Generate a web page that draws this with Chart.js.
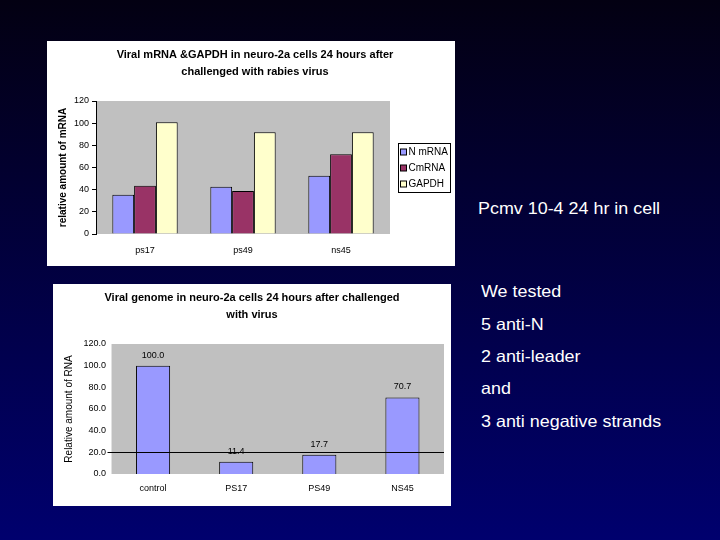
<!DOCTYPE html>
<html>
<head>
<meta charset="utf-8">
<script src="https://cdn.jsdelivr.net/npm/chart.js@4.4.0/dist/chart.umd.min.js"></script>
<style>
  html, body { margin: 0; padding: 0; }
  body {
    width: 720px; height: 540px; overflow: hidden; position: relative;
    background: linear-gradient(#030012, #00006e);
    font-family: "Liberation Sans", Arial, sans-serif;
  }
  .box { position: absolute; background: #fff; }
  .txt { position: absolute; color: #fff; font-size: 16.5px; line-height: 18px; white-space: nowrap;
         transform: scaleX(1.085); transform-origin: left center; }
</style>
</head>
<body>
<div class="box" style="left:47px; top:41px; width:408px; height:225px;">
  <canvas id="grafico1" width="408" height="225"></canvas>
</div>
<div class="box" style="left:53px; top:284px; width:398px; height:222px;">
  <canvas id="grafico2" width="398" height="222"></canvas>
</div>
<div class="txt" style="left:478px; top:199px;">Pcmv 10-4 24 hr in cell</div>
<div class="txt" style="left:481px; top:282px;">We tested</div>
<div class="txt" style="left:481px; top:315px;">5 anti-N</div>
<div class="txt" style="left:481px; top:347px;">2 anti-leader</div>
<div class="txt" style="left:481px; top:379px;">and</div>
<div class="txt" style="left:481px; top:412px;">3 anti negative strands</div>
<script>
// grafico 1: mRNA virale e GAPDH
var categorie1 = ["ps17", "ps49", "ns45"];
var nmRNA = [35.5, 42.6, 52.5];
var cmRNA = [43.5, 38.7, 72];
var gapdh = [100.8, 91.8, 91.8];
var assey1 = [0, 120, 20]; // min, max, passo

// grafico 2: genoma virale
var categorie2 = ["control", "PS17", "PS49", "NS45"];
var genoma = [100.0, 11.4, 17.7, 70.7];
var assey2 = [0, 120, 20];
var lineaRif = 20;

var font = "'Liberation Sans', Arial, sans-serif";
Chart.defaults.font.family = font;
Chart.defaults.color = "#000";
Chart.defaults.animation = false;

// sfondo grigio dell'area del grafico
var sfondoGrigio = {
    id: "sfondoGrigio",
    beforeDraw: function (chart) {
        var a = chart.chartArea, ctx = chart.ctx;
        ctx.save();
        ctx.fillStyle = "#c0c0c0";
        ctx.fillRect(a.left, a.top, a.right - a.left, a.bottom - a.top);
        ctx.restore();
    }
};

// legenda con bordo, disegnata a mano a destra dell'area
var legendaBox = {
    id: "legendaBox",
    afterDraw: function (chart) {
        var ctx = chart.ctx, a = chart.chartArea;
        var ds = chart.data.datasets;
        var w = 52, riga = 16, h = ds.length * riga + 1;
        var x = Math.round(a.right + 8) + 0.5;
        var y = Math.round((a.top + a.bottom) / 2 - h / 2) + 0.5;
        ctx.save();
        ctx.strokeStyle = "#000";
        ctx.lineWidth = 1;
        ctx.strokeRect(x, y, w, h);
        ctx.font = "10px " + font;
        ctx.textBaseline = "middle";
        ds.forEach(function (d, i) {
            var cy = Math.round(y + 8 + i * riga);
            ctx.fillStyle = d.backgroundColor;
            ctx.fillRect(x + 2, cy - 3, 6, 6);
            ctx.strokeRect(x + 2, cy - 3, 6, 6);
            ctx.fillStyle = "#000";
            ctx.fillText(d.label, x + 10, cy + 0.5);
        });
        ctx.restore();
    }
};

// linea orizzontale + etichette sopra le barre
var lineaEtichette = {
    id: "lineaEtichette",
    afterDatasetsDraw: function (chart) {
        var ctx = chart.ctx, a = chart.chartArea;
        var y = Math.round(chart.scales.y.getPixelForValue(lineaRif)) + 0.5;
        ctx.save();
        ctx.strokeStyle = "#000";
        ctx.lineWidth = 1.2;
        ctx.beginPath();
        ctx.moveTo(a.left - 4, y);
        ctx.lineTo(a.right, y);
        ctx.stroke();
        ctx.fillStyle = "#000";
        ctx.font = "9px " + font;
        ctx.textAlign = "center";
        ctx.textBaseline = "bottom";
        var meta = chart.getDatasetMeta(0);
        meta.data.forEach(function (bar, i) {
            ctx.fillText(genoma[i].toFixed(1), bar.x, bar.y - 6);
        });
        ctx.restore();
    }
};

var ctx1 = document.getElementById("grafico1");
var grafico1 = new Chart(ctx1, {
    type: "bar",
    data: {
        labels: categorie1,
        datasets: [
            { label: "N mRNA", data: nmRNA, backgroundColor: "#9999ff", borderColor: "#000", borderWidth: 1 },
            { label: "CmRNA", data: cmRNA, backgroundColor: "#993366", borderColor: "#000", borderWidth: 1 },
            { label: "GAPDH", data: gapdh, backgroundColor: "#ffffcc", borderColor: "#000", borderWidth: 1 }
        ]
    },
    options: {
        responsive: false,
        layout: { padding: { left: 8, right: 0, top: 6, bottom: 0 } },
        categoryPercentage: 0.667,
        barPercentage: 1,
        plugins: {
            title: {
                display: true,
                text: ["Viral mRNA &GAPDH in neuro-2a cells 24 hours after", "challenged with rabies virus"],
                font: { size: 11, weight: "bold", lineHeight: 1.5 },
                padding: { top: 0, bottom: 21 }
            },
            legend: { display: false },
            tooltip: { enabled: false }
        },
        scales: {
            x: {
                grid: { display: false, drawTicks: false },
                border: { display: false },
                ticks: { font: { size: 9 }, padding: 11 },
                afterFit: function (s) { s.height = 32; }
            },
            y: {
                min: assey1[0], max: assey1[1],
                ticks: { stepSize: assey1[2], font: { size: 9 }, padding: 3 },
                grid: { drawOnChartArea: false, drawTicks: true, tickLength: 4, color: "#000" },
                border: { display: true, color: "#000" },
                title: { display: true, text: "relative amount of mRNA", font: { size: 10, weight: "bold" }, padding: 2 }
            },
            // spazio vuoto a destra per la legenda
            spazio: {
                position: "right",
                ticks: { display: false },
                grid: { display: false, drawTicks: false },
                border: { display: false },
                afterFit: function (s) { s.width = 65; }
            }
        }
    },
    plugins: [sfondoGrigio, legendaBox]
});

var ctx2 = document.getElementById("grafico2");
var grafico2 = new Chart(ctx2, {
    type: "bar",
    data: {
        labels: categorie2,
        datasets: [
            { label: "genome", data: genoma, backgroundColor: "#9999ff", borderColor: "#000", borderWidth: 1 }
        ]
    },
    options: {
        responsive: false,
        layout: { padding: { left: 7, right: 7, top: 6, bottom: 0 } },
        categoryPercentage: 1,
        barPercentage: 0.41,
        plugins: {
            title: {
                display: true,
                text: ["Viral genome in neuro-2a cells 24 hours after challenged", "with virus"],
                font: { size: 11, weight: "bold", lineHeight: 1.5 },
                padding: { top: 0, bottom: 21 }
            },
            legend: { display: false },
            tooltip: { enabled: false }
        },
        scales: {
            x: {
                grid: { display: false, drawTicks: false },
                border: { display: false },
                ticks: { font: { size: 9 }, padding: 9 },
                afterFit: function (s) { s.height = 32; }
            },
            y: {
                min: assey2[0], max: assey2[1],
                ticks: { stepSize: assey2[2], font: { size: 9 }, padding: 5.5,
                    callback: function (v) { return v.toFixed(1); } },
                grid: { display: false, drawTicks: false },
                border: { display: false },
                title: { display: true, text: "Relative amount of RNA", font: { size: 10 }, padding: 3 }
            }
        }
    },
    plugins: [sfondoGrigio, lineaEtichette]
});
</script>
</body>
</html>
